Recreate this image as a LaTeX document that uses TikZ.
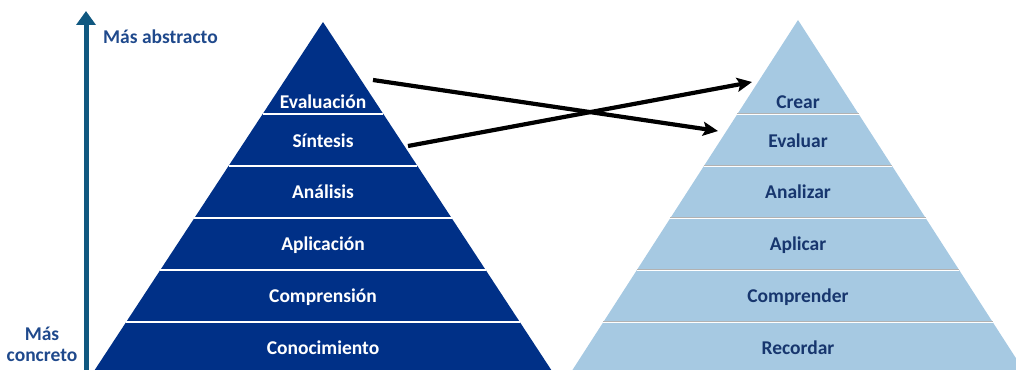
\documentclass[tikz,border=0pt]{standalone}
\usepackage{fontspec}
\setmainfont{Carlito}
\usetikzlibrary{arrows.meta}
\definecolor{darkpyr}{RGB}{0,48,135}
\definecolor{lightpyr}{RGB}{166,201,226}
\definecolor{navytext}{RGB}{23,54,110}
\definecolor{axiscol}{RGB}{16,88,128}
\definecolor{labcol}{RGB}{31,73,140}
\tikzset{
  darklab/.style={anchor=base, text=white, font=\fontsize{19.5}{22}\selectfont\bfseries, inner sep=0pt},
  lightlab/.style={anchor=base, text=navytext, font=\fontsize{19.5}{22}\selectfont\bfseries, inner sep=0pt},
  sidelab/.style={text=labcol, font=\fontsize{19.5}{22}\selectfont\bfseries, inner sep=0pt},
  sepline/.style={white, line width=1.8pt},
  bigarrow/.style={black, line width=4.2pt, -{Stealth[length=15pt,width=14pt,inset=3pt]}},
  axisarrow/.style={axiscol, line width=5pt, -{Triangle[length=14pt,width=19pt]}}
}
\begin{document}
\begin{tikzpicture}[x=1pt,y=-1pt]
\useasboundingbox (0,0) rectangle (1016,369);
\clip (0,0) rectangle (1016,369);
% left pyramid
\fill[darkpyr] (323,22) -- (88.8,379) -- (557.2,379) -- cycle;
\foreach \y in {114,166,218,270,322}{
  \pgfmathsetmacro\h{0.656*(\y-22)}
  \draw[sepline] (323-\h,\y) -- (323+\h,\y);
}
% right pyramid
\fill[lightpyr] (798,20) -- (566,380) -- (1030,380) -- cycle;
\foreach \y in {114,166,218,270,322}{
  \pgfmathsetmacro\h{0.6444*(\y-20)}
  \draw[sepline] (798-\h,\y) -- (798+\h,\y);
  \draw[gray!60, line width=0.6pt] (798-\h,\y-0.9) -- (798+\h,\y-0.9);
}
% left labels
\node[darklab] (evaluacion) at (323,108) {Evaluación};
\node[darklab] (sintesis) at (323,147) {Síntesis};
\node[darklab] (analisis) at (323,198) {Análisis};
\node[darklab] (aplicacion) at (323,250) {Aplicación};
\node[darklab] (comprension) at (323,302) {Comprensión};
\node[darklab] (conocimiento) at (323,354) {Conocimiento};
% right labels
\node[lightlab] (crear) at (798,108) {Crear};
\node[lightlab] (evaluar) at (798,147) {Evaluar};
\node[lightlab] (analizar) at (798,198) {Analizar};
\node[lightlab] (aplicar) at (798,250) {Aplicar};
\node[lightlab] (comprender) at (798,302) {Comprender};
\node[lightlab] (recordar) at (798,354) {Recordar};
% crossing arrows
\coordinate (evalout) at (373,80);
\coordinate (evalin) at (718,131);
\coordinate (sintout) at (408,146);
\coordinate (crearin) at (752,82);
\draw[bigarrow] (evalout) -- (evalin);
\draw[bigarrow] (sintout) -- (crearin);
% axis
\coordinate (axisbot) at (86,372);
\coordinate (axistop) at (86,11);
\draw[axisarrow] (axisbot) -- (axistop);
\node[sidelab, anchor=base west] (abstracto) at (103,44) {Más abstracto};
\node[sidelab, align=center] (concreto) at (42,344) {Más\\[-1pt]concreto};
\end{tikzpicture}
\end{document}
